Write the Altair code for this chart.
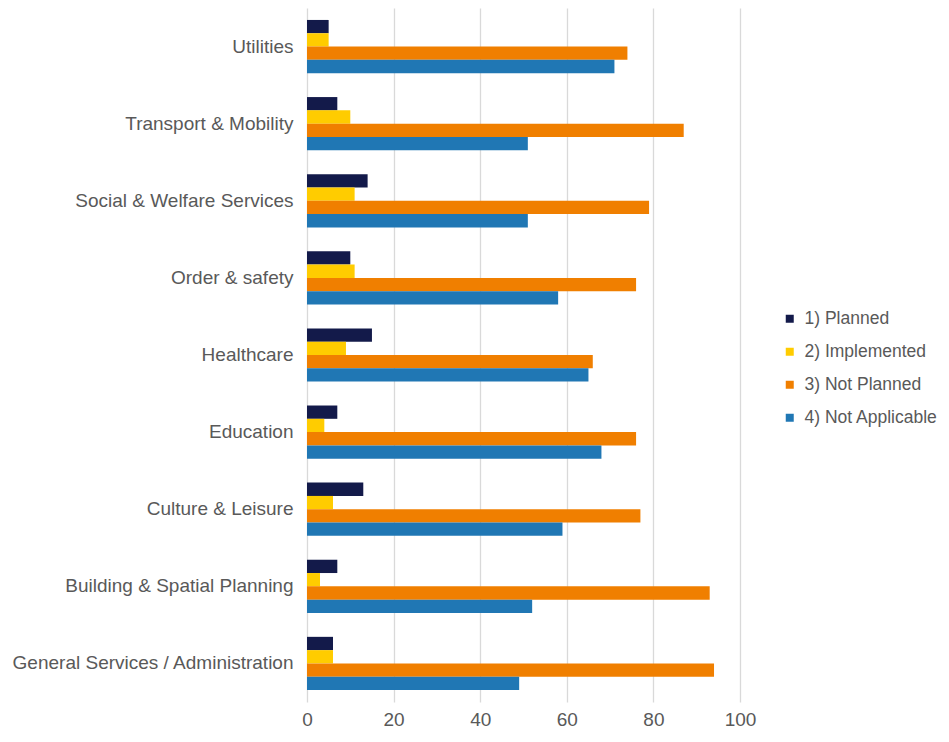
import altair as alt
import pandas as pd

categories = [
    "Utilities",
    "Transport & Mobility",
    "Social & Welfare Services",
    "Order & safety",
    "Healthcare",
    "Education",
    "Culture & Leisure",
    "Building & Spatial Planning",
    "General Services / Administration",
]
series = ["1) Planned", "2) Implemented", "3) Not Planned", "4) Not Applicable"]

planned = [5, 7, 14, 10, 15, 7, 13, 7, 6]
implemented = [5, 10, 11, 11, 9, 4, 6, 3, 6]
not_planned = [74, 87, 79, 76, 66, 76, 77, 93, 94]
not_applicable = [71, 51, 51, 58, 65, 68, 59, 52, 49]

colors = ["#131A4A", "#FFCC00", "#F07F00", "#2077B4"]

rows = []
for vals, s in zip([planned, implemented, not_planned, not_applicable], series):
    for c, v in zip(categories, vals):
        rows.append({"Category": c, "Series": s, "Value": v})
df = pd.DataFrame(rows)

font = "Liberation Sans"
grey = "#595959"

chart = (
    alt.Chart(df)
    .mark_bar()
    .encode(
        y=alt.Y(
            "Category:N",
            sort=categories,
            title=None,
            scale=alt.Scale(paddingInner=0.31, paddingOuter=0.155),
            axis=alt.Axis(
                labelFont=font,
                labelFontSize=19,
                labelColor=grey,
                labelPadding=14,
                ticks=False,
                domain=False,
                grid=False,
                labelLimit=400,
            ),
        ),
        yOffset=alt.YOffset("Series:N", sort=series),
        x=alt.X(
            "Value:Q",
            title=None,
            scale=alt.Scale(domain=[0, 100], nice=False),
            axis=alt.Axis(
                values=[0, 20, 40, 60, 80, 100],
                labelFont=font,
                labelFontSize=19,
                labelColor=grey,
                labelPadding=8,
                labelFlush=False,
                ticks=False,
                domain=False,
                grid=True,
                gridColor="#D9D9D9",
                gridWidth=1.3,
            ),
        ),
        color=alt.Color(
            "Series:N",
            sort=series,
            scale=alt.Scale(domain=series, range=colors),
            legend=alt.Legend(
                title=None,
                orient="none",
                legendX=474,
                legendY=302,
                symbolType="square",
                symbolSize=64,
                symbolStrokeWidth=0,
                labelFont=font,
                labelFontSize=17.5,
                labelColor=grey,
                rowPadding=14,
                labelOffset=6,
                labelLimit=300,
            ),
        ),
    )
    .properties(width=433, height=694, padding={"left": 3, "top": 0, "right": 0, "bottom": 0})
    .configure_view(stroke=None)
)

chart.save("out.html", embed_options={"renderer": "svg", "actions": False})
